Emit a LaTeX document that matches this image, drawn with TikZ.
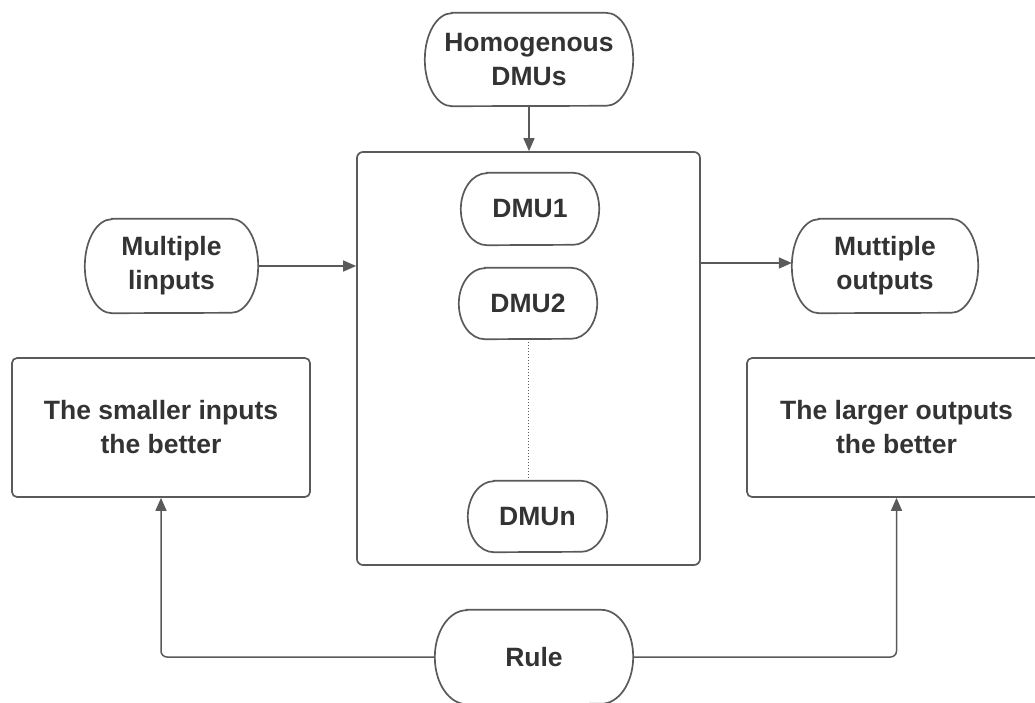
\documentclass[tikz,border=0pt]{standalone}
\usepackage{fontspec}
\setmainfont{Liberation Sans}
\usetikzlibrary{calc,arrows.meta}
\definecolor{ln}{HTML}{5A5A5A}
\definecolor{tx}{HTML}{333333}
\tikzset{
  lbl/.style={font=\fontsize{26.5}{34}\selectfont\bfseries, text=tx, align=center},
  term/.style={lbl, rectangle, inner sep=0pt},
  outline/.style={draw=ln, line width=1.7pt},
  sqbox/.style={lbl, rectangle, rounded corners=5pt, draw=ln, line width=1.7pt, inner sep=0pt},
  arr/.style={draw=ln, line width=1.5pt, -{Triangle[length=13pt,width=11pt]}}
}
% #1 node name, #2 horizontal radius of the ends, #3 half height
\newcommand\termline[3]{%
  \draw[outline] ($(#1.north west)+(#2,0)$) -- ($(#1.north east)+(-#2,0)$)
      arc[start angle=-90, end angle=90, x radius=#2, y radius=#3]
      -- ($(#1.south west)+(#2,0)$)
      arc[start angle=90, end angle=270, x radius=#2, y radius=#3]
      -- cycle;}
\begin{document}
\begin{tikzpicture}[x=1pt,y=-1pt]
\useasboundingbox (0,0) rectangle (1035,702);
\clip (0,0) rectangle (1035,702);
\node[sqbox, minimum width=343pt, minimum height=413pt, rounded corners=6pt] (big) at (528.5,358.5) {};
\node[term, minimum width=208pt, minimum height=93pt] (homog) at (529,59.5) {Homogenous\\DMUs};
\node[term, minimum width=138pt, minimum height=72pt] (dmu1) at (530,209) {DMU1};
\node[term, minimum width=138pt, minimum height=71pt] (dmu2) at (528,303.5) {DMU2};
\node[term, minimum width=139pt, minimum height=71pt] (dmun) at (537.5,516.5) {DMUn};
\node[term, minimum width=173pt, minimum height=94pt] (inputs) at (171.5,266) {Multiple\\linputs};
\node[term, minimum width=186pt, minimum height=94pt] (outputs) at (885,266) {Muttiple\\outputs};
\node[sqbox, minimum width=298pt, minimum height=139pt] (smaller) at (161,427.5) {The smaller inputs\\the better};
\node[sqbox, minimum width=299pt, minimum height=139pt] (larger) at (896.5,427.5) {The larger outputs\\the better};
\node[term, minimum width=198pt, minimum height=94pt] (rule) at (534,657) {Rule};
\termline{homog}{27}{46.5}
\termline{dmu1}{26}{36}
\termline{dmu2}{26}{35.5}
\termline{dmun}{26}{35.5}
\termline{inputs}{27}{47}
\termline{outputs}{27}{47}
\termline{rule}{32}{47}
\coordinate (outin) at ($(outputs.west)+(0,-3)$);
\draw[arr] (homog.south) -- (homog.south |- big.north);
\draw[arr] (inputs.east) -- (inputs.east -| big.west);
\draw[arr] (big.east |- outin) -- (outin);
\draw[ln, line width=1pt, dotted] (dmu2.south) -- (dmu2.south |- dmun.north);
\draw[arr, rounded corners=6pt] (rule.west) -| (smaller.south);
\draw[arr, rounded corners=6pt] (rule.east) -| (larger.south);
\end{tikzpicture}
\end{document}
